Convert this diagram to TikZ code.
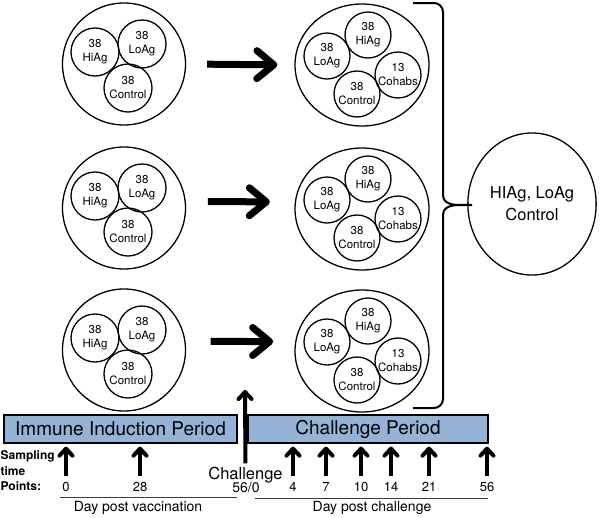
\documentclass[tikz,border=0pt]{standalone}
\usepackage{fontspec}
\setmainfont{TeX Gyre Heros}
\usetikzlibrary{shapes.geometric,arrows.meta}
\definecolor{barblue}{RGB}{149,179,215}
\definecolor{rulegray}{RGB}{60,60,60}

\begin{document}
\begin{tikzpicture}
  [x=1pt,y=-1pt,line width=1.3pt,
   lgrp/.style={ellipse,draw,minimum width=123pt,minimum height=122pt},
   rgrp/.style={ellipse,draw,minimum width=134pt,minimum height=122pt},
   sub/.style={circle,draw,minimum size=#1,inner sep=0,align=center,
     font=\fontsize{11.5}{14}\selectfont},
   sub/.default=48pt,
   bar/.style={draw,fill=barblue,minimum height=28pt,inner sep=0,
     font=\fontsize{19}{22}\selectfont},
   day/.style={inner sep=1pt,font=\fontsize{13}{15}\selectfont},
   bigarrow/.style={line width=7pt,-{Straight Barb[length=17pt,width=28pt,round]}},
   tick/.style={line width=4pt,-{Straight Barb[length=7pt,width=13pt,round]}}]
  \useasboundingbox (0,0) rectangle (600,517);

  \foreach \g/\y in {1/64,2/208,3/350}
  {
    \node[lgrp] (L\g) at (124,\y) {};
    \node[sub] (L\g h) at (95,\y-12) {38\\HiAg};
    \node[sub] (L\g l) at (142,\y-20) {38\\LoAg};
    \node[sub] (L\g c) at (128,\y+24) {38\\Control};
    \node[rgrp] (R\g) at (362,\y+1) {};
    \node[sub=46pt] (R\g h) at (368,\y-29) {38\\HiAg};
    \node[sub=46pt] (R\g l) at (327,\y-8) {38\\LoAg};
    \node[sub=46pt] (R\g k) at (398,\y+11) {13\\Cohabs};
    \node[sub=46pt] (R\g c) at (357,\y+30) {38\\Control};
  }
  \foreach \g/\a/\b/\s/\t in {1/0/180/21/17,2/6/174/22/25,3/8/172/25/22}
    \draw[bigarrow,shorten <=\s pt,shorten >=\t pt] (L\g.\a) -- (R\g.\b);

  \draw[line width=2pt] (413,3) -- (434,3) to[out=0,in=90] (443,12) -- (443,195)
    to[out=-90,in=180] (472,205) to[out=180,in=90] (443,215) -- (443,399)
    to[out=-90,in=0] (434,408) -- (413,408);
  \node[ellipse,draw,minimum width=118pt,minimum height=142pt,align=center,
    font=\fontsize{16.5}{22}\selectfont] (all) at (532,204) {HIAg, LoAg\\Control};

  \node[bar,minimum width=233pt] (ip) at (120.5,429) {Immune Induction Period};
  \node[bar,minimum width=240pt] (cp) at (368,429) {Challenge Period};

  \node[anchor=west,align=left,inner sep=0,font=\bfseries\fontsize{12}{15.5}\selectfont]
    (samp) at (0,471) {Sampling\\time\\Points:};

  \foreach \n/\x in {0/66,28/140}
  {
    \node[day] (t\n) at (\x,487) {\n};
    \draw[tick,shorten <=5pt,shorten >=3pt] (t\n.north) -- (t\n.north |- ip.south);
  }
  \foreach \n/\x in {4/293,7/326,10/361,14/391,21/429,56/487}
  {
    \node[day] (t\n) at (\x,487) {\n};
    \draw[tick,shorten <=5pt,shorten >=3pt] (t\n.north) -- (t\n.north |- cp.south);
  }

  \node[inner sep=0,font=\fontsize{16.5}{18}\selectfont] (chal) at (245.5,475) {Challenge};
  \node[inner sep=0,font=\fontsize{14}{16}\selectfont] (cday) at (246,488) {56/0};
  \coordinate (ctip) at (245,390);
  \draw[tick,shorten <=3pt] (chal.north) -- (ctip);

  \draw[rulegray,line width=0.8pt] (60,497) -- (237,497);
  \draw[rulegray,line width=0.8pt] (255,498) -- (488,498);
  \node[day,font=\fontsize{14}{16}\selectfont] (dv) at (138,508) {Day post vaccination};
  \node[day,font=\fontsize{14}{16}\selectfont] (dc) at (372,508) {Day post challenge};
\end{tikzpicture}
\end{document}
